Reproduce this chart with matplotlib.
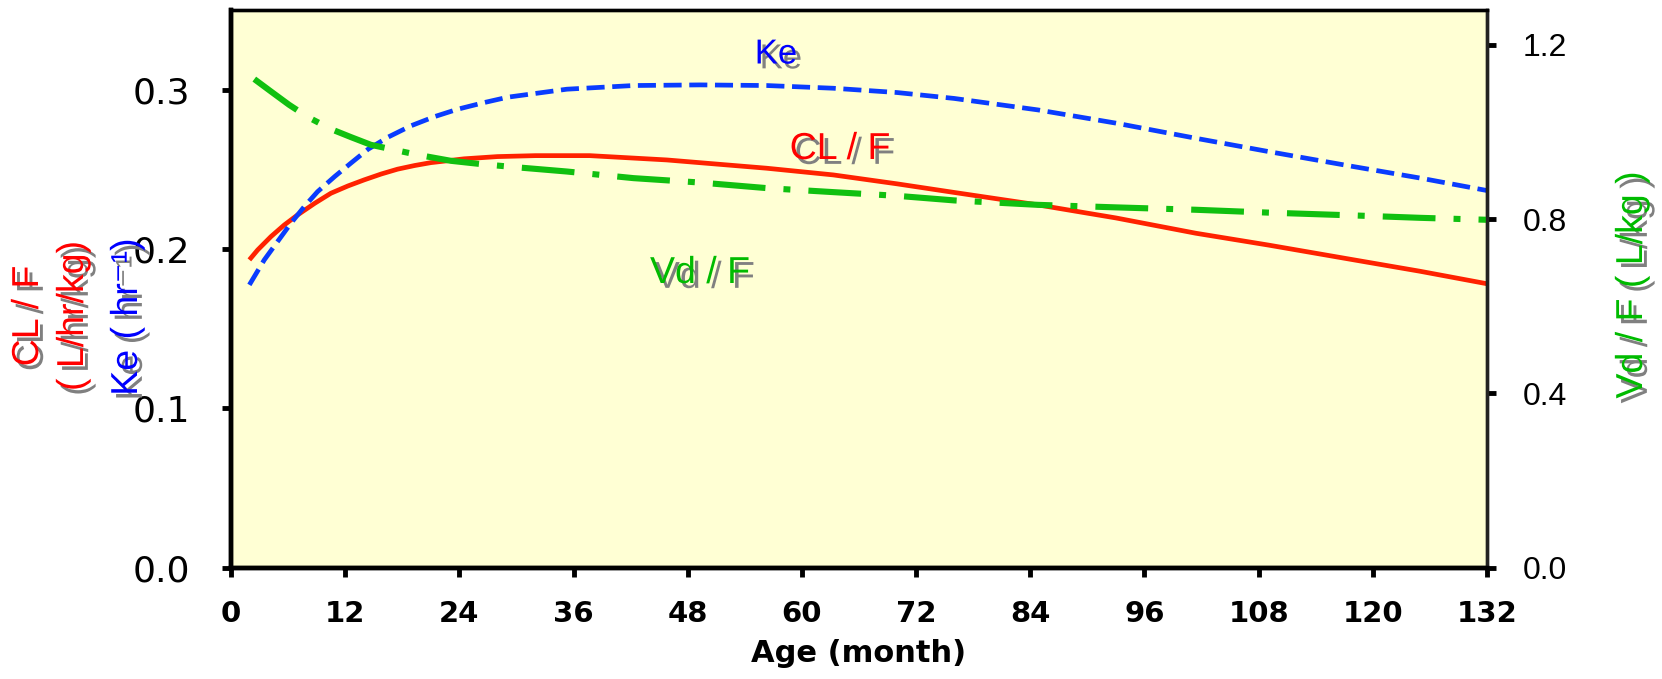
import matplotlib
matplotlib.use("Agg")
import matplotlib.pyplot as plt
import matplotlib.patheffects as pe

# values
months_cl = [1.93, 2.8, 4.2, 5.6, 7.0, 8.8, 10.5, 12.3, 14.0, 15.8, 17.5, 19.3, 21.0, 24.5, 28.0, 32,
             37.7, 45.8, 56.3, 63.3, 70, 76, 84.8, 93, 101.4, 109, 118, 125, 132]
cl_f = [0.1932, 0.1994, 0.2078, 0.2151, 0.2214, 0.2287, 0.235, 0.2396, 0.2434, 0.2471, 0.2501, 0.2524,
        0.2542, 0.2566, 0.258, 0.2586, 0.2586, 0.2559, 0.2507, 0.2465, 0.2409, 0.2355, 0.2277, 0.2195,
        0.2099, 0.2025, 0.1932, 0.186, 0.1782]

months_ke = [1.93, 3.5, 4.9, 6.3, 7.7, 9.1, 10.9, 12.6, 14.4, 16.5, 18.9, 21.4, 23.8, 26.6, 29.1, 35.3,
             42.3, 49.3, 56.3, 63.3, 70, 76, 84.8, 93, 101.4, 109, 118, 125, 132]
ke = [0.1775, 0.1932, 0.2047, 0.2162, 0.2266, 0.236, 0.2455, 0.2539, 0.2626, 0.2702, 0.2773, 0.2831,
      0.2877, 0.2919, 0.2953, 0.3003, 0.3026, 0.303, 0.3026, 0.3009, 0.2982, 0.2945, 0.2873, 0.279,
      0.2695, 0.2612, 0.2517, 0.2445, 0.2367]

months_vd = [2.45, 4.2, 6.1, 8.1, 10.5, 12.6, 14.7, 16.8, 19.6, 23.1, 26.3, 29.8, 35.3, 42.3, 49.3, 56.3,
             63.3, 70, 76, 84.8, 93, 101.4, 109, 118, 125, 132]
vd_f = [1.1214, 1.093, 1.0625, 1.034, 1.0067, 0.9883, 0.9706, 0.9607, 0.9477, 0.9339, 0.9263, 0.9194,
        0.9093, 0.8941, 0.884, 0.8712, 0.862, 0.8535, 0.843, 0.8328, 0.827, 0.8215, 0.815, 0.8085,
        0.803, 0.7985]

xticks = [0, 12, 24, 36, 48, 60, 72, 84, 96, 108, 120, 132]
lticks = [0.0, 0.1, 0.2, 0.3]
rticks = [0.0, 0.4, 0.8, 1.2]

W, H = 1662, 679
plt.rcParams['lines.scale_dashes'] = False

fig = plt.figure(figsize=(W / 100, H / 100), dpi=100)
ax = fig.add_axes([231 / W, 1 - 567.7 / H, (1487 - 231) / W, (567.7 - 10) / H])
ax.set_facecolor('#FFFFD4')
ax2 = ax.twinx()

ax.plot(months_cl, cl_f, color='#FF2200', lw=3.4, solid_capstyle='butt')
ax.plot(months_ke, ke, color='#0A3CFF', lw=3.4, dashes=(13, 5.5))
ax2.plot(months_vd, vd_f, color='#10C010', lw=4.4, dashes=(38, 13, 5, 13))

ax.set_xlim(0, 132)
ax.set_ylim(0, 0.35)
ax2.set_ylim(0, 1.28)

ax.set_xticks(xticks)
ax.set_xticklabels([str(t) for t in xticks], fontfamily='DejaVu Sans', fontweight='bold', fontsize=21)
ax.set_yticks(lticks)
ax.set_yticklabels(['%.1f' % t for t in lticks], fontfamily='DejaVu Sans', fontsize=26)
ax2.set_yticks(rticks)
ax2.set_yticklabels(['%.1f' % t for t in rticks], fontfamily='Liberation Sans', fontsize=23)

ax.tick_params(axis='x', direction='out', length=6.5, width=3.5, pad=17)
ax.tick_params(axis='y', direction='out', length=6.5, width=3.5, pad=23)
ax2.tick_params(axis='y', direction='out', length=6.5, width=3.5, pad=19)

for a in (ax, ax2):
    for s in ['left', 'bottom']:
        a.spines[s].set_linewidth(3.2)
    for s in ['top', 'right']:
        a.spines[s].set_linewidth(2.4)
ax2.spines['right'].set_color('#222222')

ax.set_xlabel('Age (month)', fontfamily='DejaVu Sans', fontweight='bold', fontsize=22, labelpad=8)

shadow = [pe.withSimplePatchShadow(offset=(3.5, -3.5), shadow_rgbFace='#808080', alpha=1.0)]
fams = ['Liberation Sans', 'DejaVu Sans']


def px(x, y):
    return x / W, 1 - y / H


def label(x, y, s, c, rot=0, size=27):
    t = fig.text(*px(x, y), s, color=c, rotation=rot, ha='center', va='center',
                 fontsize=size, family=fams)
    t.set_path_effects(shadow)


# axis titles
label(28, 316, 'CL / F', '#FF0000', 90)
label(73, 316, '( L/hr/kg)', '#FF0000', 90)
label(127, 317, 'Ke ( hr\u207b\u00b9)', '#0000FF', 90)
label(1632, 285, 'Vd / F ( L/kg )', '#00BB00', 90)

# curve names
label(776, 54, 'Ke', '#0000FF', size=25)
label(840, 149, 'CL / F', '#FF0000')
label(700, 273, 'Vd / F', '#00BB00')

fig.savefig('out.png', dpi=100)
